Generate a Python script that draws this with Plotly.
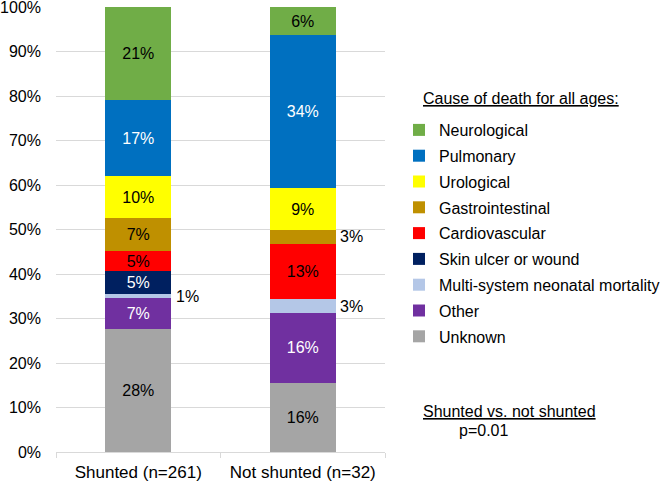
import math
import plotly.graph_objects as go

categories = ["Shunted (n=261)", "Not shunted (n=32)"]
causes = ["Unknown", "Other", "Multi-system neonatal mortality", "Skin ulcer or wound",
          "Cardiovascular", "Gastrointestinal", "Urological", "Pulmonary", "Neurological"]
shunted = [27.6, 6.9, 1.1, 5.0, 4.6, 7.3, 9.6, 16.9, 21.0]
not_shunted = [15.6, 15.6, 3.1, 0.0, 12.5, 3.1, 9.4, 34.4, 6.3]
colors = ["#A5A5A5", "#7030A0", "#B4C7E7", "#002060", "#FF0000",
          "#BF9000", "#FFFF00", "#0070C0", "#70AD47"]
text_colors = ["black", "white", "black", "white", "black",
               "black", "black", "white", "black"]

FONT = "Liberation Sans, Arial, sans-serif"
SMALL = 4.0  # values below this are labelled outside the bar


def lab(v):
    return f"{int(math.floor(v + 0.5))}%"


fig = go.Figure()
series = [shunted, not_shunted]
n = len(causes)
for i, cause in enumerate(causes):
    vals = [shunted[i], not_shunted[i]]
    txt = [lab(v) if v >= SMALL else "" for v in vals]
    fig.add_trace(go.Bar(
        x=categories, y=vals, name=cause,
        marker=dict(color=colors[i], line=dict(width=0)),
        text=txt, textposition="inside", insidetextanchor="middle",
        textfont=dict(family=FONT, size=16, color=text_colors[i]),
        legendgroup=cause, legendrank=n - i, hoverinfo="skip",
    ))

# outside labels for small segments
for ci, vals in enumerate(series):
    cum = 0
    for v in vals:
        if 0 < v < SMALL:
            fig.add_annotation(x=ci + 0.215, y=cum + v / 2, xref="x", yref="y",
                               text=lab(v), showarrow=False, xanchor="left",
                               font=dict(family=FONT, size=16, color="black"))
        cum += v

W, H = 670, 481
L, R, T, B = 56, 285, 7, 29
pw, ph = W - L - R, H - T - B


def px_x(x):
    return (x - L) / pw


def px_y(y):
    return 1 - (y - T) / ph


fig.add_annotation(x=px_x(421), y=px_y(98), xref="paper", yref="paper",
                   text="<u>Cause of death for all ages:</u>",
                   showarrow=False, xanchor="left", yanchor="middle",
                   font=dict(family=FONT, size=16, color="black"))
fig.add_annotation(x=px_x(421), y=px_y(411), xref="paper", yref="paper",
                   text="<u>Shunted vs. not shunted</u>",
                   showarrow=False, xanchor="left", yanchor="middle",
                   font=dict(family=FONT, size=16, color="black"))
fig.add_annotation(x=px_x(457), y=px_y(430), xref="paper", yref="paper", text="p=0.01",
                   showarrow=False, xanchor="left", yanchor="middle",
                   font=dict(family=FONT, size=16, color="black"))

fig.update_layout(
    width=W, height=H,
    margin=dict(l=L, r=R, t=T, b=B, autoexpand=False),
    barmode="stack", bargap=0.6,
    plot_bgcolor="white", paper_bgcolor="white",
    font=dict(family=FONT, size=16, color="black"),
    uniformtext=dict(minsize=16, mode="show"),
    showlegend=True,
    legend=dict(
        traceorder="grouped", tracegroupgap=2,
        x=px_x(399), xanchor="left",
        y=px_y(113), yanchor="top",
        font=dict(family=FONT, size=16, color="black"),
        bgcolor="rgba(0,0,0,0)", itemclick=False,
    ),
    xaxis=dict(
        showline=True, linecolor="#d9d9d9", linewidth=1,
        ticks="outside", tickson="boundaries", ticklen=5, tickcolor="#d9d9d9",
        tickfont=dict(family=FONT, size=17, color="black"),
        ticklabelstandoff=5, automargin=False,
    ),
    yaxis=dict(
        range=[0, 100], dtick=10, ticksuffix="%",
        gridcolor="#d9d9d9", gridwidth=1, zeroline=False,
        tickfont=dict(family=FONT, size=16, color="black"),
        ticklabelstandoff=14, ticklabeloverflow="allow", automargin=False,
    ),
)

fig.write_html("out.html", config={"displayModeBar": False},
               post_script="document.body.style.margin='0';document.body.style.overflow='hidden';")
